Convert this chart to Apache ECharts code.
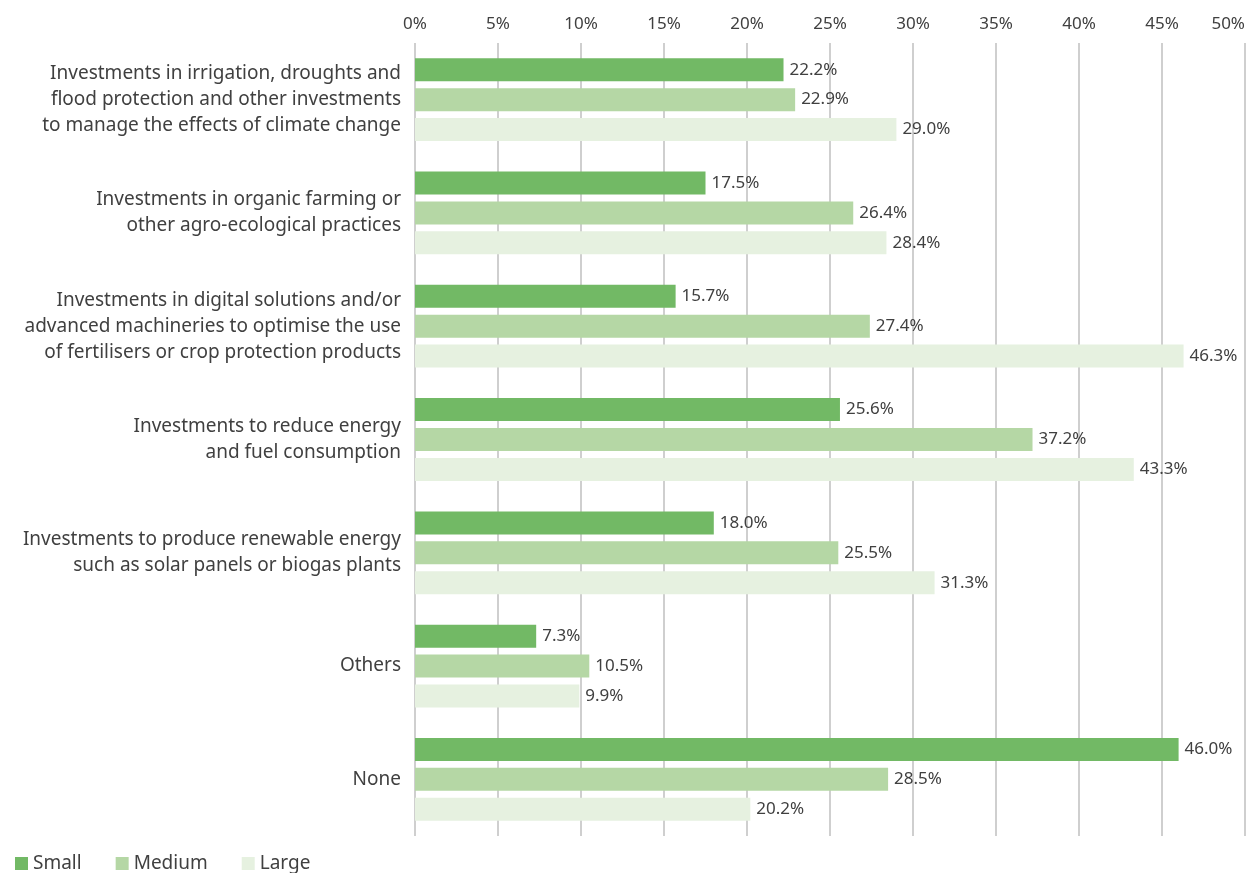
<!DOCTYPE html>
<html>
<head>
<meta charset="utf-8">
<script src="https://cdn.jsdelivr.net/npm/echarts@6/dist/echarts.min.js"></script>
<style>
  html, body { margin: 0; padding: 0; background: #fff; }
  #chart { width: 1258px; height: 873px; }
</style>
</head>
<body>
<div id="chart"></div>
<script>
// categories, top to bottom
const categories = [
    'Investments in irrigation, droughts and\nflood protection and other investments\nto manage the effects of climate change',
    'Investments in organic farming or\nother agro-ecological practices',
    'Investments in digital solutions and/or\nadvanced machineries to optimise the use\nof fertilisers or crop protection products',
    'Investments to reduce energy\nand fuel consumption',
    'Investments to produce renewable energy\nsuch as solar panels or biogas plants',
    'Others',
    'None'
];

const small = [22.2, 17.5, 15.7, 25.6, 18.0, 7.3, 46.0];
const medium = [22.9, 26.4, 27.4, 37.2, 25.5, 10.5, 28.5];
const large = [29.0, 28.4, 46.3, 43.3, 31.3, 9.9, 20.2];

const fontFamily = '"Noto Sans", sans-serif';
const textColor = '#404040';

let makeSeries = (name, data, color) => {
    return {
        name: name,
        type: 'bar',
        data: data,
        barWidth: 23,
        barGap: '30%',
        itemStyle: {color: color},
        label: {
            show: true,
            position: 'right',
            distance: 6,
            color: textColor,
            fontSize: 17,
            fontFamily: fontFamily,
            formatter: (p) => p.value.toFixed(1) + '%'
        }
    };
};

let option = {
    animation: false,
    textStyle: {fontFamily: fontFamily},
    grid: {
        left: 415,
        right: 13,
        top: 43,
        bottom: 37,
        outerBoundsMode: 'none'
    },
    legend: {
        left: 10,
        top: 849,
        icon: 'rect',
        itemWidth: 13,
        itemHeight: 13,
        itemGap: 34,
        textStyle: {color: textColor, fontSize: 19, fontFamily: fontFamily},
        data: ['Small', 'Medium', 'Large']
    },
    xAxis: {
        type: 'value',
        position: 'top',
        min: 0,
        max: 50,
        interval: 5,
        axisLine: {show: false},
        axisTick: {show: false},
        axisLabel: {
            color: textColor,
            fontSize: 17,
            fontFamily: fontFamily,
            margin: 10,
            alignMaxLabel: 'right',
            formatter: (v) => v + '%'
        },
        splitLine: {lineStyle: {color: '#bfbfbf', width: 1.5}}
    },
    yAxis: {
        type: 'category',
        inverse: true,
        data: categories,
        axisLine: {show: false},
        axisTick: {show: false},
        axisLabel: {
            color: textColor,
            fontSize: 19,
            fontFamily: fontFamily,
            lineHeight: 26,
            margin: 14,
            align: 'right'
        }
    },
    series: [
        makeSeries('Small', small, '#72b965'),
        makeSeries('Medium', medium, '#b5d7a5'),
        makeSeries('Large', large, '#e6f1e0')
    ]
};

let chart = echarts.init(document.getElementById('chart'));
chart.setOption(option);
</script>
</body>
</html>
